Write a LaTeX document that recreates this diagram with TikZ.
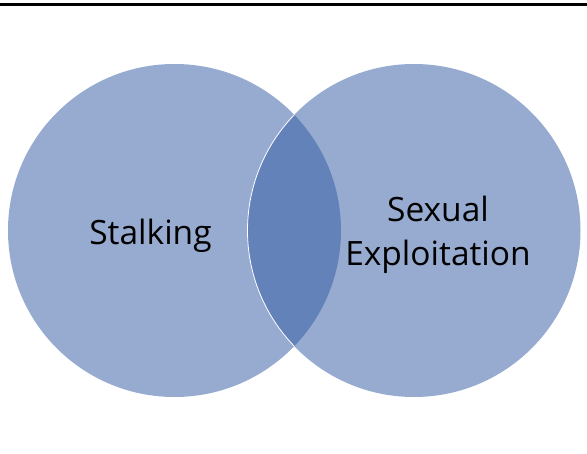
\documentclass[tikz,border=0pt]{standalone}
\usepackage{fontspec}
\setmainfont{Open Sans}
\definecolor{vlight}{HTML}{97ABD1}
\definecolor{vdark}{HTML}{6382B9}
\begin{document}
\begin{tikzpicture}[x=1pt,y=1pt,
  setcircle/.style={fill=vlight, draw=none},
  lbl/.style={font=\fontsize{33.5}{43}\selectfont, text=black, align=center, inner sep=0pt}]
\useasboundingbox (0,0) rectangle (587,453);
\fill[white] (0,0) rectangle (587,453);
\coordinate (tl) at (0,448);
\coordinate (tr) at (587,448);
\draw[line width=3pt, black] (tl) -- (tr);
\coordinate (cl) at (174.5,222.5);
\coordinate (cr) at (414,222.5);
\fill[setcircle] (cl) circle (166.5);
\fill[setcircle] (cr) circle (166.5);
\begin{scope}
  \clip (cl) circle (166.5);
  \fill[vdark] (cr) circle (166.5);
\end{scope}
\begin{scope}
  \clip (cl) circle (166.5);
  \draw[white, line width=0.8pt] (cr) circle (166.5);
\end{scope}
\node[lbl, anchor=base] (stalk) at (150.5,208.5) {Stalking};
\node[lbl, anchor=base] (sex) at (438,231) {Sexual};
\node[lbl, anchor=base] (expl) at (438,187) {Exploitation};
\end{tikzpicture}
\end{document}
